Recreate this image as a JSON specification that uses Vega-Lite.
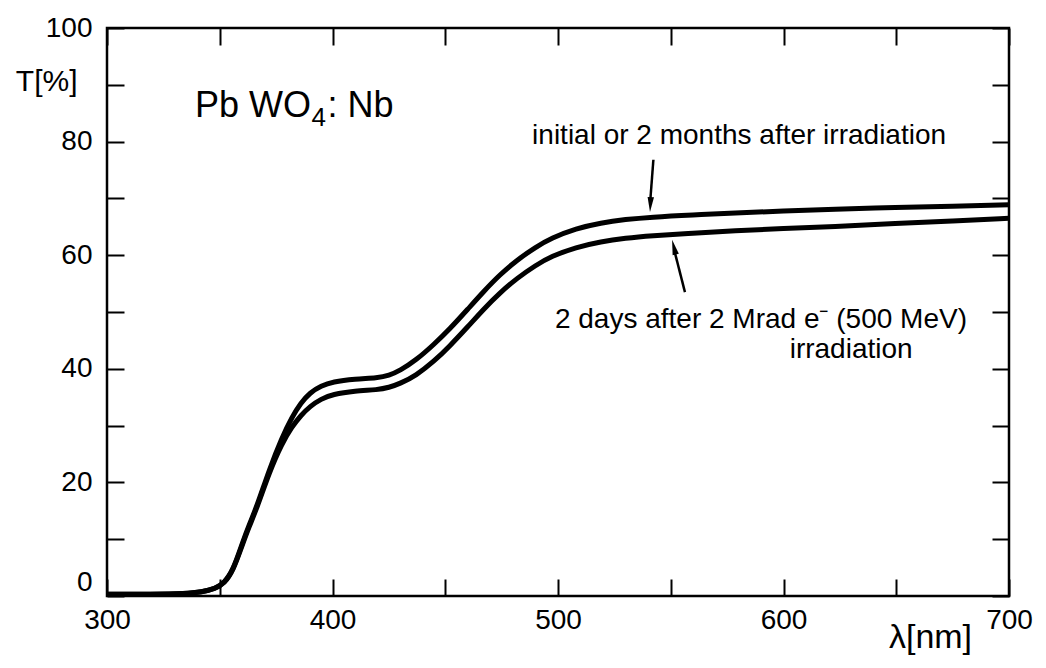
{
  "$schema": "https://vega.github.io/schema/vega-lite/v6.json",
  "width": 902,
  "height": 568,
  "autosize": "none",
  "padding": {"left": 107, "top": 28, "right": 37, "bottom": 72},
  "background": "white",
  "config": {
    "font": "Liberation Sans",
    "view": {"stroke": "black", "strokeWidth": 2.5},
    "axis": {
      "domain": false,
      "grid": false,
      "tickColor": "black",
      "tickWidth": 2,
      "tickSize": -17,
      "labelFont": "Liberation Sans",
      "labelFontSize": 28,
      "labelColor": "black",
      "titleFont": "Liberation Sans",
      "titleFontWeight": "normal",
      "titleColor": "black"
    }
  },
  "datasets": {
    "curves": [
      {"wl": 300, "T": 0.3, "series": "initial"},
      {"wl": 320, "T": 0.3, "series": "initial"},
      {"wl": 335, "T": 0.4, "series": "initial"},
      {"wl": 342, "T": 0.7, "series": "initial"},
      {"wl": 348, "T": 1.3, "series": "initial"},
      {"wl": 352, "T": 2.3, "series": "initial"},
      {"wl": 356, "T": 4.6, "series": "initial"},
      {"wl": 360, "T": 9.3, "series": "initial"},
      {"wl": 363, "T": 12.5, "series": "initial"},
      {"wl": 366.5, "T": 15.8, "series": "initial"},
      {"wl": 372, "T": 22.3, "series": "initial"},
      {"wl": 377.5, "T": 27.8, "series": "initial"},
      {"wl": 382, "T": 31.5, "series": "initial"},
      {"wl": 386, "T": 34.0, "series": "initial"},
      {"wl": 390, "T": 35.8, "series": "initial"},
      {"wl": 395, "T": 37.0, "series": "initial"},
      {"wl": 400, "T": 37.7, "series": "initial"},
      {"wl": 410, "T": 38.2, "series": "initial"},
      {"wl": 420, "T": 38.4, "series": "initial"},
      {"wl": 425, "T": 38.8, "series": "initial"},
      {"wl": 430, "T": 39.7, "series": "initial"},
      {"wl": 437, "T": 41.5, "series": "initial"},
      {"wl": 445, "T": 44.3, "series": "initial"},
      {"wl": 452, "T": 47.0, "series": "initial"},
      {"wl": 460, "T": 50.5, "series": "initial"},
      {"wl": 467, "T": 53.6, "series": "initial"},
      {"wl": 474, "T": 56.5, "series": "initial"},
      {"wl": 482, "T": 59.2, "series": "initial"},
      {"wl": 490, "T": 61.4, "series": "initial"},
      {"wl": 497, "T": 63.0, "series": "initial"},
      {"wl": 508, "T": 64.7, "series": "initial"},
      {"wl": 519, "T": 65.7, "series": "initial"},
      {"wl": 530, "T": 66.3, "series": "initial"},
      {"wl": 541, "T": 66.7, "series": "initial"},
      {"wl": 560, "T": 67.1, "series": "initial"},
      {"wl": 578, "T": 67.4, "series": "initial"},
      {"wl": 600, "T": 67.8, "series": "initial"},
      {"wl": 622, "T": 68.1, "series": "initial"},
      {"wl": 650, "T": 68.4, "series": "initial"},
      {"wl": 675, "T": 68.6, "series": "initial"},
      {"wl": 700, "T": 68.9, "series": "initial"},
      {"wl": 300, "T": 0.3, "series": "irradiated"},
      {"wl": 320, "T": 0.3, "series": "irradiated"},
      {"wl": 335, "T": 0.4, "series": "irradiated"},
      {"wl": 342, "T": 0.7, "series": "irradiated"},
      {"wl": 348, "T": 1.3, "series": "irradiated"},
      {"wl": 352, "T": 2.2, "series": "irradiated"},
      {"wl": 356, "T": 4.5, "series": "irradiated"},
      {"wl": 360, "T": 9.0, "series": "irradiated"},
      {"wl": 363, "T": 12.2, "series": "irradiated"},
      {"wl": 366.5, "T": 15.5, "series": "irradiated"},
      {"wl": 372, "T": 21.8, "series": "irradiated"},
      {"wl": 377.5, "T": 26.8, "series": "irradiated"},
      {"wl": 382, "T": 29.8, "series": "irradiated"},
      {"wl": 386, "T": 31.8, "series": "irradiated"},
      {"wl": 390, "T": 33.4, "series": "irradiated"},
      {"wl": 395, "T": 34.7, "series": "irradiated"},
      {"wl": 400, "T": 35.5, "series": "irradiated"},
      {"wl": 410, "T": 36.1, "series": "irradiated"},
      {"wl": 420, "T": 36.3, "series": "irradiated"},
      {"wl": 425, "T": 36.7, "series": "irradiated"},
      {"wl": 430, "T": 37.4, "series": "irradiated"},
      {"wl": 437, "T": 38.8, "series": "irradiated"},
      {"wl": 445, "T": 41.3, "series": "irradiated"},
      {"wl": 452, "T": 44.0, "series": "irradiated"},
      {"wl": 460, "T": 47.4, "series": "irradiated"},
      {"wl": 467, "T": 50.5, "series": "irradiated"},
      {"wl": 474, "T": 53.3, "series": "irradiated"},
      {"wl": 482, "T": 56.0, "series": "irradiated"},
      {"wl": 490, "T": 58.2, "series": "irradiated"},
      {"wl": 497, "T": 59.8, "series": "irradiated"},
      {"wl": 508, "T": 61.4, "series": "irradiated"},
      {"wl": 519, "T": 62.4, "series": "irradiated"},
      {"wl": 530, "T": 63.0, "series": "irradiated"},
      {"wl": 541, "T": 63.4, "series": "irradiated"},
      {"wl": 560, "T": 63.9, "series": "irradiated"},
      {"wl": 578, "T": 64.3, "series": "irradiated"},
      {"wl": 600, "T": 64.7, "series": "irradiated"},
      {"wl": 622, "T": 65.0, "series": "irradiated"},
      {"wl": 650, "T": 65.6, "series": "irradiated"},
      {"wl": 675, "T": 66.0, "series": "irradiated"},
      {"wl": 700, "T": 66.5, "series": "irradiated"}
    ]
  },
  "layer": [
    {
      "data": {"name": "curves"},
      "mark": {"type": "line", "color": "black", "strokeWidth": 5, "interpolate": "basis", "clip": true},
      "encoding": {
        "x": {"field": "wl", "type": "quantitative", "scale": {"domain": [300, 700], "nice": false, "zero": false},
          "axis": {"orient": "bottom", "values": [300, 350, 400, 450, 500, 550, 600, 650, 700],
            "labelExpr": "datum.value % 100 === 0 ? datum.label : ''", "labelPadding": 27, "labelFlush": false,
            "title": "λ[nm]", "titleFontSize": 34, "titleAnchor": "start", "titleAlign": "center", "titleX": 823, "titleY": 51, "titleBaseline": "alphabetic"}},
        "y": {"field": "T", "type": "quantitative", "scale": {"domain": [0, 100], "nice": false},
          "axis": {"orient": "left", "values": [0, 10, 20, 30, 40, 50, 60, 70, 80, 90, 100],
            "labelExpr": "datum.value % 20 === 0 ? datum.label : ''", "labelPadding": 32,
            "labelBaseline": {"condition": {"test": "datum.value === 0", "value": "bottom"}, "value": "middle"},
            "title": "T[%]", "titleFontSize": 30, "titleAngle": 0, "titleAlign": "right", "titleX": -30, "titleY": 62, "titleBaseline": "alphabetic"}},
        "detail": {"field": "series"}
      }
    },
    {
      "data": {"values": [{}]},
      "mark": {"type": "rule", "strokeWidth": 0, "opacity": 0},
      "encoding": {
        "x": {"datum": 300, "type": "quantitative", "scale": {"domain": [300, 700], "nice": false, "zero": false},
          "axis": {"orient": "top", "values": [300, 350, 400, 450, 500, 550, 600, 650, 700], "labels": false, "title": null}},
        "y": {"datum": 0, "type": "quantitative", "scale": {"domain": [0, 100], "nice": false},
          "axis": {"orient": "right", "values": [0, 10, 20, 30, 40, 50, 60, 70, 80, 90, 100], "labels": false, "title": null}}
      }
    },
    {
      "data": {"values": [{}]},
      "layer": [
        {
          "mark": {"type": "text", "text": "Pb WO", "align": "left", "baseline": "alphabetic", "fontSize": 36, "color": "black", "font": "Liberation Sans"},
          "encoding": {"x": {"datum": 339, "axis": null}, "y": {"datum": 84.4, "axis": null}}
        },
        {
          "mark": {"type": "text", "text": "4", "align": "left", "baseline": "alphabetic", "fontSize": 26, "color": "black", "font": "Liberation Sans"},
          "encoding": {"x": {"datum": 390.7, "axis": null}, "y": {"datum": 82.8, "axis": null}}
        },
        {
          "mark": {"type": "text", "text": ": Nb", "align": "left", "baseline": "alphabetic", "fontSize": 36, "color": "black", "font": "Liberation Sans"},
          "encoding": {"x": {"datum": 397.8, "axis": null}, "y": {"datum": 84.4, "axis": null}}
        },
        {
          "mark": {"type": "text", "text": "initial or 2 months after irradiation", "align": "center", "baseline": "alphabetic", "fontSize": 28, "color": "black", "font": "Liberation Sans"},
          "encoding": {"x": {"datum": 580.3, "axis": null}, "y": {"datum": 79.6, "axis": null}}
        },
        {
          "mark": {"type": "text", "text": "2 days after 2 Mrad e⁻ (500 MeV)", "align": "center", "baseline": "alphabetic", "fontSize": 28, "color": "black", "font": "Liberation Sans"},
          "encoding": {"x": {"datum": 590, "axis": null}, "y": {"datum": 47.2, "axis": null}}
        },
        {
          "mark": {"type": "text", "text": "irradiation", "align": "center", "baseline": "alphabetic", "fontSize": 28, "color": "black", "font": "Liberation Sans"},
          "encoding": {"x": {"datum": 630, "axis": null}, "y": {"datum": 41.9, "axis": null}}
        },
        {
          "mark": {"type": "rule", "color": "black", "strokeWidth": 2.5},
          "encoding": {"x": {"datum": 542.3, "axis": null}, "y": {"datum": 76.8, "axis": null}, "x2": {"datum": 540.9}, "y2": {"datum": 69.5}}
        },
        {
          "mark": {"type": "point", "shape": "M0,0 L-0.32,-1.5 L0.32,-1.5 Z", "filled": true, "color": "black", "size": 400, "angle": 3, "opacity": 1},
          "encoding": {"x": {"datum": 540.8, "axis": null}, "y": {"datum": 67.6, "axis": null}}
        },
        {
          "mark": {"type": "rule", "color": "black", "strokeWidth": 2.5},
          "encoding": {"x": {"datum": 556.3, "axis": null}, "y": {"datum": 53.5, "axis": null}, "x2": {"datum": 551.8}, "y2": {"datum": 60.5}}
        },
        {
          "mark": {"type": "point", "shape": "M0,0 L-0.32,1.5 L0.32,1.5 Z", "filled": true, "color": "black", "size": 400, "angle": -14, "opacity": 1},
          "encoding": {"x": {"datum": 550.6, "axis": null}, "y": {"datum": 62.7, "axis": null}}
        }
      ]
    }
  ],
  "resolve": {"axis": {"x": "independent", "y": "independent"}}
}
